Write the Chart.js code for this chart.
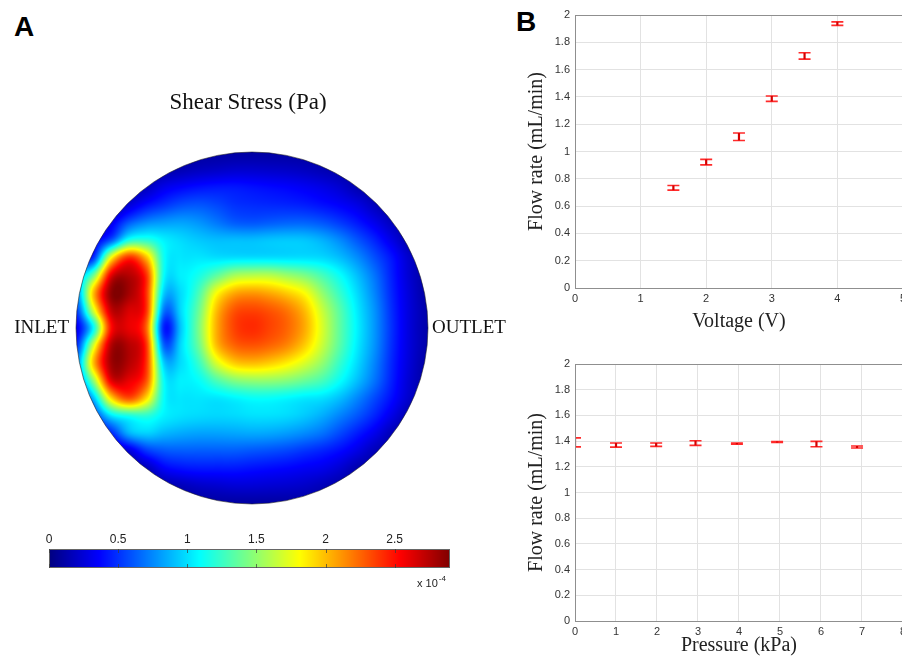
<!DOCTYPE html>
<html>
<head>
<meta charset="utf-8">
<script src="https://cdn.jsdelivr.net/npm/chart.js@4.4.1/dist/chart.umd.min.js"></script>
<style>
  html, body { margin: 0; padding: 0; background: #fff; width: 902px; height: 656px; overflow: hidden; position: relative; }
  canvas { position: absolute; }
  .tag { position: absolute; font-family: 'Liberation Sans', Arial, sans-serif; font-weight: bold; font-size: 28px; color: #000; line-height: 1; }
</style>
</head>
<body>
<div class="tag" style="left:14px; top:13px;">A</div>
<div class="tag" style="left:516px; top:8px;">B</div>
<canvas id="shearChart" width="520" height="460" style="left:0; top:60px;"></canvas>
<canvas id="colorbarChart" width="470" height="80" style="left:0; top:520px;"></canvas>
<canvas id="voltageChart" width="390" height="340" style="left:520px; top:0;"></canvas>
<canvas id="pressureChart" width="390" height="316" style="left:520px; top:340px;"></canvas>
<script>
// Panel B - flow rate vs voltage
const voltage = [1.5, 2, 2.5, 3, 3.5, 4];
const flowByVoltage = [0.734, 0.922, 1.108, 1.387, 1.70, 1.937];
const flowByVoltageErr = [0.017, 0.02, 0.027, 0.02, 0.023, 0.013];

// Panel B - flow rate vs pressure
const pressure = [0, 1, 1.98, 2.94, 3.95, 4.93, 5.89, 6.88];
const flowByPressure = [1.39, 1.369, 1.372, 1.385, 1.38, 1.393, 1.377, 1.354];
const flowByPressureErr = [0.035, 0.016, 0.013, 0.018, 0.005, 0.004, 0.021, 0.008];

// Panel A - shear stress (x 1e-4 Pa) on a 21 x 21 grid
const colorTicks = [0, 0.5, 1, 1.5, 2, 2.5];
const shearMax = 2.9;
const gridU = [-1, -0.9, -0.8, -0.7, -0.6, -0.5, -0.4, -0.3, -0.2, -0.1, 0, 0.1, 0.2, 0.3, 0.4, 0.5, 0.6, 0.7, 0.8, 0.9, 1];
const gridV = [-1, -0.9, -0.8, -0.7, -0.6, -0.5, -0.4, -0.3, -0.2, -0.1, 0, 0.1, 0.2, 0.3, 0.4, 0.5, 0.6, 0.7, 0.8, 0.9, 1];
const shear = [
  [.1,.1,.1,.1,.1,.1,.1,.1,.1,.1,.1,.1,.1,.1,.1,.1,.1,.1,.1,.1,.1],
  [.1,.1,.1,.1,.1,.12,.15,.18,.2,.22,.22,.21,.2,.18,.15,.12,.1,.1,.1,.1,.1],
  [.1,.1,.1,.12,.18,.3,.36,.4,.42,.42,.4,.38,.36,.33,.29,.23,.14,.1,.1,.1,.1],
  [.1,.1,.12,.25,.4,.5,.58,.6,.56,.5,.48,.47,.46,.44,.4,.35,.28,.17,.1,.1,.1],
  [.1,.15,.3,.6,.75,.8,.82,.78,.7,.62,.6,.62,.64,.64,.6,.52,.42,.3,.17,.1,.1],
  [.2,.3,.6,1.15,1.2,1.05,.98,.93,.9,.9,.9,.92,.93,.92,.86,.75,.6,.45,.28,.12,.1],
  [.3,.5,1.8,2.4,2.0,1.12,1.02,1.02,1.0,1.0,1.0,1.0,1.0,1.0,.98,.9,.76,.58,.4,.2,.1],
  [.8,1.4,2.6,2.75,2.4,1.1,1.05,1.15,1.35,1.55,1.6,1.6,1.52,1.43,1.28,1.1,.9,.68,.43,.22,.1],
  [.7,2.0,2.85,2.8,2.4,.95,1.0,1.3,1.8,2.05,2.1,2.05,1.95,1.8,1.5,1.23,.98,.73,.45,.24,.1],
  [.5,1.7,2.7,2.65,2.4,.7,1.0,1.4,2.0,2.3,2.35,2.3,2.2,2.0,1.65,1.33,1.03,.77,.47,.25,.12],
  [.3,1.1,2.5,2.6,2.25,.45,.95,1.45,2.05,2.35,2.42,2.35,2.25,2.05,1.7,1.35,1.05,.78,.48,.25,.12],
  [.45,1.7,2.75,2.75,2.4,.65,1.0,1.4,2.0,2.25,2.3,2.25,2.15,1.95,1.65,1.33,1.03,.77,.47,.25,.12],
  [.7,2.0,2.8,2.75,2.4,.95,1.0,1.25,1.7,1.95,2.0,1.95,1.85,1.7,1.5,1.23,.98,.73,.45,.24,.1],
  [.6,1.5,2.6,2.6,2.3,1.1,1.05,1.1,1.3,1.45,1.5,1.5,1.46,1.38,1.28,1.1,.9,.68,.43,.22,.1],
  [.3,.9,1.9,2.3,1.9,1.1,1.02,1.02,1.02,1.06,1.1,1.1,1.07,1.03,1.0,.9,.74,.56,.38,.2,.1],
  [.2,.5,1.0,1.15,1.2,1.05,1.0,.98,.97,.98,1.0,1.0,.98,.93,.85,.73,.6,.45,.28,.12,.1],
  [.1,.2,.45,.85,.95,.88,.84,.82,.82,.83,.84,.83,.8,.75,.68,.56,.43,.3,.15,.1,.1],
  [.1,.1,.15,.25,.5,.6,.62,.62,.62,.62,.6,.58,.55,.5,.45,.38,.28,.16,.1,.1,.1],
  [.1,.1,.1,.12,.16,.34,.4,.42,.42,.42,.4,.38,.36,.33,.3,.23,.13,.1,.1,.1,.1],
  [.1,.1,.1,.1,.1,.12,.16,.2,.22,.24,.24,.23,.22,.2,.16,.12,.1,.1,.1,.1,.1],
  [.1,.1,.1,.1,.1,.1,.1,.1,.1,.1,.1,.1,.1,.1,.1,.1,.1,.1,.1,.1,.1]
];

const serif = "'Liberation Serif', 'Times New Roman', serif";
const sans = "'Liberation Sans', Arial, sans-serif";
const plainNumber = v => String(+Number(v).toFixed(1));

// MATLAB style jet colormap
function jet(t) {
  t = Math.max(0, Math.min(1, t));
  const f = c => Math.max(0, Math.min(1, 1.5 - Math.abs(4 * t - c))) * 255;
  return [f(3), f(2), f(1)];
}

// Catmull-Rom shading between grid cells
function cubic(p0, p1, p2, p3, t) {
  return 0.5 * (2 * p1 + (p2 - p0) * t + (2 * p0 - 5 * p1 + 4 * p2 - p3) * t * t + (3 * p1 - p0 - 3 * p2 + p3) * t * t * t);
}
function sampleShear(u, v) {
  const n = gridU.length - 1, m = gridV.length - 1;
  let fi = (u - gridU[0]) / (gridU[1] - gridU[0]);
  let fj = (v - gridV[0]) / (gridV[1] - gridV[0]);
  fi = Math.max(0, Math.min(n, fi));
  fj = Math.max(0, Math.min(m, fj));
  const i0 = Math.min(n - 1, Math.floor(fi)), j0 = Math.min(m - 1, Math.floor(fj));
  const du = fi - i0, dv = fj - j0;
  const ci = k => Math.max(0, Math.min(n, k));
  const cj = k => Math.max(0, Math.min(m, k));
  const rows = [-1, 0, 1, 2].map(dj => {
    const row = shear[cj(j0 + dj)];
    return cubic(row[ci(i0 - 1)], row[i0], row[i0 + 1], row[ci(i0 + 2)], du);
  });
  return Math.max(0, Math.min(shearMax, cubic(rows[0], rows[1], rows[2], rows[3], dv)));
}

const shearFieldPlugin = {
  id: 'shearField',
  beforeDatasetsDraw(chart) {
    const { ctx, chartArea: a, scales: { x, y } } = chart;
    const w = Math.round(a.right - a.left), h = Math.round(a.bottom - a.top);
    const off = document.createElement('canvas');
    off.width = w; off.height = h;
    const octx = off.getContext('2d');
    const img = octx.createImageData(w, h);
    for (let j = 0; j < h; j++) {
      const v = y.getValueForPixel(a.top + j + 0.5);
      for (let i = 0; i < w; i++) {
        const u = x.getValueForPixel(a.left + i + 0.5);
        const c = jet(sampleShear(u, v) / shearMax);
        const k = (j * w + i) * 4;
        img.data[k] = c[0]; img.data[k + 1] = c[1]; img.data[k + 2] = c[2]; img.data[k + 3] = 255;
      }
    }
    octx.putImageData(img, 0, 0);
    const cx = x.getPixelForValue(0), cy = y.getPixelForValue(0);
    const r = x.getPixelForValue(1) - cx;
    ctx.save();
    ctx.beginPath();
    ctx.arc(cx, cy, r, 0, Math.PI * 2);
    ctx.clip();
    ctx.drawImage(off, a.left, a.top);
    ctx.restore();
    ctx.save();
    ctx.beginPath();
    ctx.arc(cx, cy, r, 0, Math.PI * 2);
    ctx.strokeStyle = 'rgba(30,30,30,0.7)';
    ctx.lineWidth = 0.8;
    ctx.stroke();
    ctx.restore();
  },
  afterDraw(chart) {
    const { ctx, chartArea: a, scales: { x, y } } = chart;
    const cx = x.getPixelForValue(0), cy = y.getPixelForValue(0);
    ctx.save();
    ctx.fillStyle = '#111';
    ctx.textBaseline = 'middle';
    ctx.font = '23px ' + serif;
    ctx.textAlign = 'center';
    ctx.fillText('Shear Stress (Pa)', cx - 4, a.top - 49);
    ctx.font = '19px ' + serif;
    ctx.textAlign = 'right';
    ctx.fillText('INLET', a.left - 7, cy);
    ctx.textAlign = 'left';
    ctx.fillText('OUTLET', a.right + 4, cy);
    ctx.restore();
  }
};

const colorbarPlugin = {
  id: 'colorbar',
  beforeDatasetsDraw(chart) {
    const { ctx, chartArea: a, scales: { x } } = chart;
    ctx.save();
    for (let px = Math.floor(a.left); px < a.right; px++) {
      const c = jet(x.getValueForPixel(px + 0.5) / shearMax);
      ctx.fillStyle = 'rgb(' + c.map(Math.round).join(',') + ')';
      ctx.fillRect(px, a.top, 1, a.bottom - a.top);
    }
    ctx.strokeStyle = '#666';
    ctx.lineWidth = 1;
    ctx.strokeRect(a.left + 0.5, a.top + 0.5, a.right - a.left - 1, a.bottom - a.top - 1);
    ctx.strokeStyle = 'rgba(60,60,60,0.7)';
    colorTicks.forEach(t => {
      const px = Math.round(x.getPixelForValue(t)) + 0.5;
      ctx.beginPath();
      ctx.moveTo(px, a.top); ctx.lineTo(px, a.top + 4);
      ctx.moveTo(px, a.bottom); ctx.lineTo(px, a.bottom - 4);
      ctx.stroke();
    });
    ctx.restore();
  },
  afterDraw(chart) {
    const { ctx, chartArea: a } = chart;
    ctx.save();
    ctx.fillStyle = '#222';
    ctx.textBaseline = 'alphabetic';
    ctx.textAlign = 'left';
    ctx.font = '11px ' + sans;
    const x0 = a.right - 33, y0 = a.bottom + 19;
    ctx.fillText('x 10', x0, y0);
    const wBase = ctx.measureText('x 10').width;
    ctx.font = '8px ' + sans;
    ctx.fillText('-4', x0 + wBase + 1, y0 - 6);
    ctx.restore();
  }
};

const errorBarPlugin = {
  id: 'errorBars',
  afterDatasetsDraw(chart, args, opts) {
    const { ctx, chartArea: a, scales: { x, y } } = chart;
    const ds = chart.data.datasets[0];
    ctx.save();
    ctx.beginPath();
    ctx.rect(a.left, a.top, a.right - a.left, a.bottom - a.top);
    ctx.clip();
    ds.data.forEach((p, i) => {
      const err = opts.errors[i];
      const px = x.getPixelForValue(p.x);
      const yHi = y.getPixelForValue(p.y + err), yLo = y.getPixelForValue(p.y - err);
      const half = opts.capWidth / 2;
      ctx.strokeStyle = '#ff2a2a';
      ctx.lineWidth = 1.6;
      ctx.beginPath();
      ctx.moveTo(px - half, yHi); ctx.lineTo(px + half, yHi);
      ctx.moveTo(px - half, yLo); ctx.lineTo(px + half, yLo);
      ctx.stroke();
      ctx.strokeStyle = '#d40000';
      ctx.lineWidth = 2.2;
      ctx.beginPath();
      ctx.moveTo(px, yHi); ctx.lineTo(px, yLo);
      ctx.stroke();
    });
    ctx.restore();
  }
};

const boxPlugin = {
  id: 'box',
  afterDraw(chart) {
    const { ctx, chartArea: a } = chart;
    ctx.save();
    ctx.strokeStyle = '#8f8f8f';
    ctx.lineWidth = 1;
    ctx.strokeRect(Math.round(a.left) + 0.5, Math.round(a.top) + 0.5, Math.round(a.right - a.left) - 1, Math.round(a.bottom - a.top));
    ctx.restore();
  }
};

function flowChart(id, xs, ys, errs, xMax, xTitle, pad, xHeight, xTitlePad) {
  return new Chart(document.getElementById(id), {
    type: 'scatter',
    data: { datasets: [{ data: xs.map((v, i) => ({ x: v, y: ys[i] })), pointRadius: 0 }] },
    options: {
      responsive: false,
      animation: false,
      events: [],
      layout: { padding: pad },
      scales: {
        x: {
          type: 'linear', min: 0, max: xMax,
          ticks: { stepSize: 1, padding: 4, color: '#333', font: { family: sans, size: 11 }, callback: plainNumber },
          grid: { color: '#e2e2e2', drawTicks: false },
          border: { display: false },
          title: { display: true, text: xTitle, color: '#222', font: { family: serif, size: 20, lineHeight: 1 }, padding: { top: 0, bottom: xTitlePad } },
          afterFit(s) { s.height = xHeight; }
        },
        y: {
          min: 0, max: 2,
          ticks: { stepSize: 0.2, padding: 5, color: '#333', font: { family: sans, size: 11 }, callback: plainNumber },
          grid: { color: '#e2e2e2', drawTicks: false },
          border: { display: false },
          title: { display: true, text: 'Flow rate (mL/min)', color: '#222', font: { family: serif, size: 20, lineHeight: 1 }, padding: { top: 7, bottom: 0 } },
          afterFit(s) { s.width = 55; }
        }
      },
      plugins: { legend: { display: false }, tooltip: { enabled: false }, errorBars: { errors: errs, capWidth: 12 } }
    },
    plugins: [errorBarPlugin, boxPlugin]
  });
}

new Chart(document.getElementById('shearChart'), {
  type: 'scatter',
  data: { datasets: [{ data: gridV.flatMap((v, j) => gridU.map((u, i) => ({ x: u, y: v, s: shear[j][i] }))), pointRadius: 0 }] },
  options: {
    responsive: false,
    animation: false,
    events: [],
    layout: { padding: { left: 76, right: 92, top: 92, bottom: 16 } },
    scales: {
      x: { display: false, min: -1, max: 1 },
      y: { display: false, min: -1, max: 1, reverse: true }
    },
    plugins: { legend: { display: false }, tooltip: { enabled: false } }
  },
  plugins: [shearFieldPlugin]
});

new Chart(document.getElementById('colorbarChart'), {
  type: 'scatter',
  data: { datasets: [{ data: [], pointRadius: 0 }] },
  options: {
    responsive: false,
    animation: false,
    events: [],
    layout: { padding: { left: 49, right: 20, top: 7, bottom: 32 } },
    scales: {
      x: {
        type: 'linear', position: 'top', min: 0, max: shearMax,
        afterBuildTicks(s) { s.ticks = colorTicks.map(v => ({ value: v })); },
        ticks: { padding: 2, color: '#222', font: { family: sans, size: 12 }, callback: plainNumber },
        grid: { display: false, drawTicks: false },
        border: { display: false },
        afterFit(s) { s.height = 22; }
      },
      y: { display: false, min: 0, max: 1 }
    },
    plugins: { legend: { display: false }, tooltip: { enabled: false } }
  },
  plugins: [colorbarPlugin]
});

flowChart('voltageChart', voltage, flowByVoltage, flowByVoltageErr, 5, 'Voltage (V)', { top: 15, right: 0, left: 0, bottom: 2 }, 50, 6);
flowChart('pressureChart', pressure, flowByPressure, flowByPressureErr, 8, 'Pressure (kPa)', { top: 24, right: 0, left: 0, bottom: 0 }, 35, 0);
</script>
</body>
</html>
